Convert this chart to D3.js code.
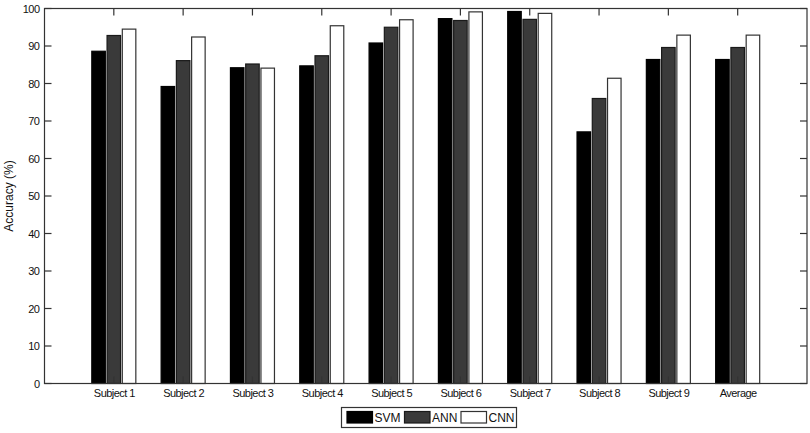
<!DOCTYPE html>
<html>
<head>
<meta charset="utf-8">
<script src="https://cdn.jsdelivr.net/npm/d3@7"></script>
<style>
body { margin: 0; background: #fff; }
text { font-family: "Liberation Sans", Arial, sans-serif; fill: #111; }
</style>
</head>
<body>
<div id="chart"></div>
<script>
var categories = ["Subject 1", "Subject 2", "Subject 3", "Subject 4", "Subject 5",
	"Subject 6", "Subject 7", "Subject 8", "Subject 9", "Average"];
var seriesNames = ["SVM", "ANN", "CNN"];
var svmValues = [88.6, 79.2, 84.2, 84.7, 90.8, 97.3, 99.2, 67.1, 86.4, 86.4];
var annValues = [92.8, 86.1, 85.2, 87.4, 95.0, 96.8, 97.1, 76.0, 89.6, 89.6];
var cnnValues = [94.5, 92.4, 84.1, 95.4, 97.0, 99.1, 98.7, 81.4, 92.9, 92.9];
var yTicks = [0, 10, 20, 30, 40, 50, 60, 70, 80, 90, 100];

var series = [
	{ name: seriesNames[0], values: svmValues, fill: "#000000", stroke: "#000000" },
	{ name: seriesNames[1], values: annValues, fill: "#3a3a3a", stroke: "#1a1a1a" },
	{ name: seriesNames[2], values: cnnValues, fill: "#ffffff", stroke: "#333333" }
];

var width = 810, height = 433;
var plotL = 44.5, plotR = 807, plotT = 8.5, plotB = 383.5;

var svg = d3.select("#chart").append("svg")
	.attr("width", width)
	.attr("height", height);

var x = d3.scaleLinear().domain([0, categories.length + 1]).range([plotL, plotR]);
var y = d3.scaleLinear().domain([0, 100]).range([plotB, plotT]);

var barW = x(0.195) - x(0);
var offset = 0.22;

// bars
series.forEach(function(s, si) {
	svg.append("g").selectAll("rect")
		.data(s.values)
		.enter().append("rect")
		.attr("x", function(d, i) { return x(i + 1 + (si - 1) * offset) - barW / 2; })
		.attr("y", function(d) { return y(d); })
		.attr("width", barW)
		.attr("height", function(d) { return y(0) - y(d); })
		.style("fill", s.fill)
		.style("stroke", s.stroke)
		.style("stroke-width", 1.2);
});

// axes box
svg.append("rect")
	.attr("x", plotL).attr("y", plotT)
	.attr("width", plotR - plotL).attr("height", plotB - plotT)
	.style("fill", "none").style("stroke", "#333").style("stroke-width", 1.2);

var catIdx = d3.range(1, categories.length + 1);

svg.append("g")
	.attr("transform", "translate(0," + plotB + ")")
	.call(d3.axisBottom(x).tickValues(catIdx).tickSize(0).tickPadding(6)
		.tickFormat(function(d) { return categories[d - 1]; }))
	.call(function(g) { g.select(".domain").remove(); })
	.selectAll("text").style("font-size", "11px").style("letter-spacing", "-0.55px").style("fill", "#111");

svg.append("g")
	.attr("transform", "translate(" + plotL + ",0)")
	.call(d3.axisLeft(y).tickValues(yTicks).tickSize(0).tickPadding(5))
	.call(function(g) { g.select(".domain").remove(); })
	.selectAll("text").style("font-size", "11px").style("letter-spacing", "-0.5px").style("fill", "#111");

// inward ticks on all four sides
var tickStyle = function(sel) { sel.style("stroke", "#333").style("stroke-width", 1.2); };
svg.append("g").selectAll("line").data(yTicks).enter().append("line")
	.attr("x1", plotL).attr("x2", plotL + 7)
	.attr("y1", function(d) { return y(d); }).attr("y2", function(d) { return y(d); })
	.call(tickStyle);
svg.append("g").selectAll("line").data(yTicks).enter().append("line")
	.attr("x1", plotR).attr("x2", plotR - 7)
	.attr("y1", function(d) { return y(d); }).attr("y2", function(d) { return y(d); })
	.call(tickStyle);
svg.append("g").selectAll("line").data(catIdx).enter().append("line")
	.attr("x1", function(d) { return x(d); }).attr("x2", function(d) { return x(d); })
	.attr("y1", plotT).attr("y2", plotT + 7)
	.call(tickStyle);
svg.append("g").selectAll("line").data(catIdx).enter().append("line")
	.attr("x1", function(d) { return x(d); }).attr("x2", function(d) { return x(d); })
	.attr("y1", plotB).attr("y2", plotB - 7)
	.call(tickStyle);

// y label
svg.append("text")
	.attr("transform", "translate(13," + ((plotT + plotB) / 2) + ") rotate(-90)")
	.attr("text-anchor", "middle")
	.style("font-size", "12px")
	.text("Accuracy (%)");

// legend
var legend = svg.append("g");
legend.append("rect")
	.attr("x", 341.5).attr("y", 407.5).attr("width", 175).attr("height", 20)
	.style("fill", "#fff").style("stroke", "#333").style("stroke-width", 1.2);
var legX = [347, 404.5, 461];
series.forEach(function(s, si) {
	legend.append("rect")
		.attr("x", legX[si]).attr("y", 411.5).attr("width", 25.5).attr("height", 11.5)
		.style("fill", s.fill).style("stroke", s.stroke).style("stroke-width", 1.2);
	legend.append("text")
		.attr("x", legX[si] + 27.5).attr("y", 422)
		.style("font-size", "12px")
		.text(s.name);
});
</script>
</body>
</html>
